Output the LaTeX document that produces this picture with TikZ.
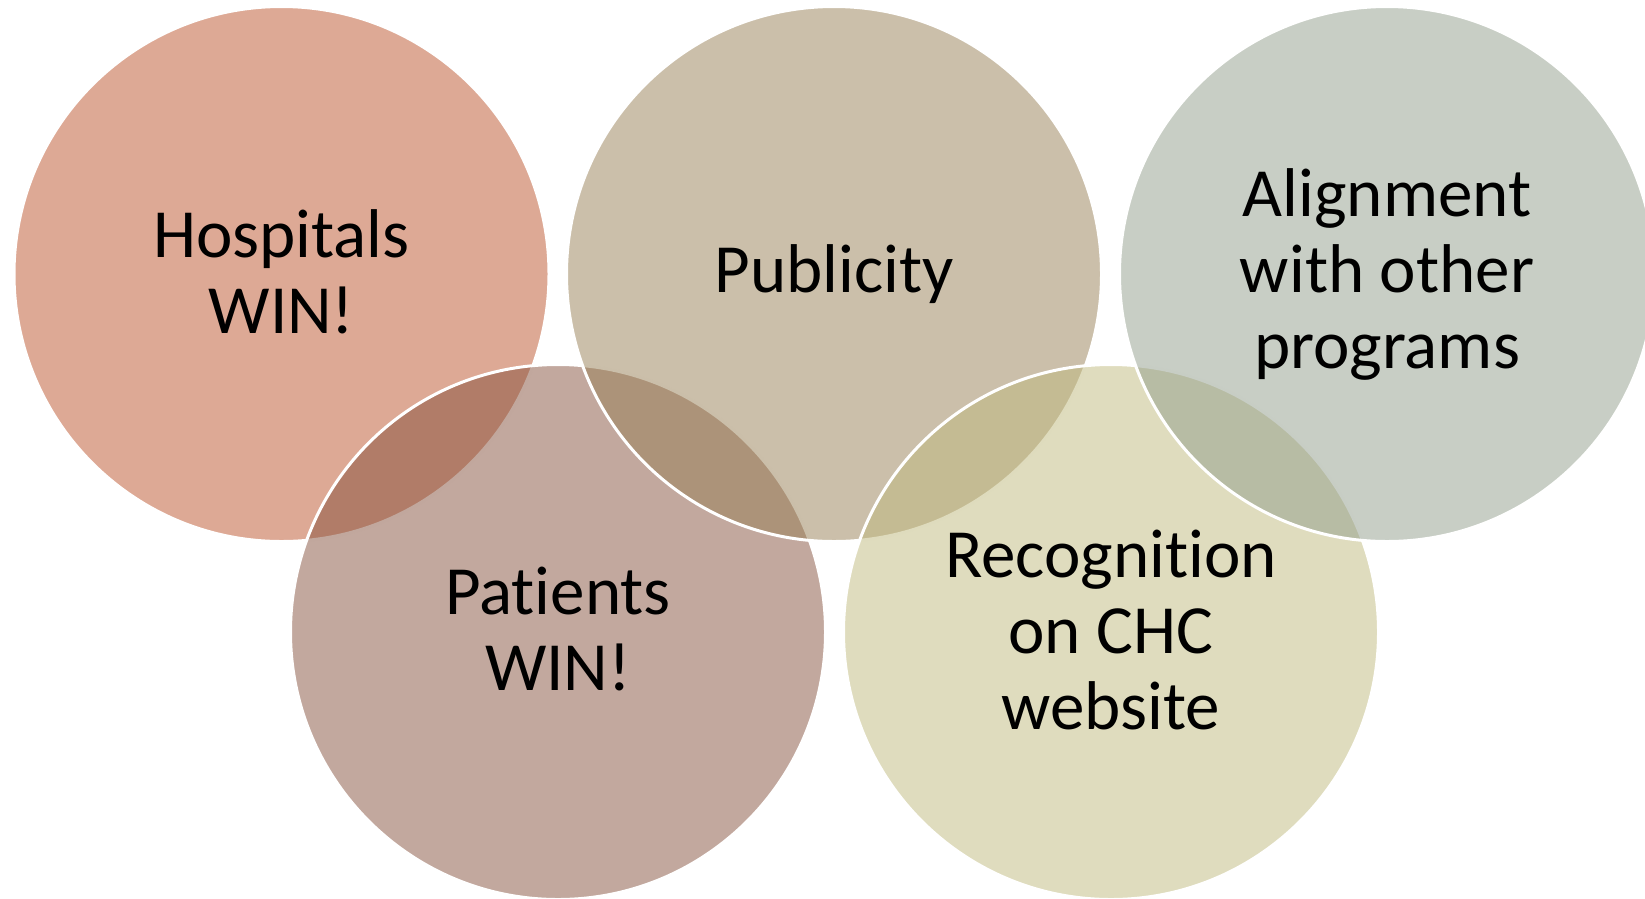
\documentclass[tikz,border=0pt]{standalone}
\usepackage{fontspec}
\setmainfont[Ligatures={NoCommon,NoContextual}]{Carlito}
\definecolor{hospC}{RGB}{187,83,43}
\definecolor{pubC}{RGB}{151,127,85}
\definecolor{alignC}{RGB}{145,157,139}
\definecolor{patC}{RGB}{133,81,61}
\definecolor{recC}{RGB}{191,185,125}
\tikzset{
  bubble/.style={circle, minimum size=535pt, inner sep=0pt,
    fill=#1, fill opacity=0.5, draw=white, draw opacity=1, line width=3pt},
  label/.style={inner sep=0pt, align=center, text=black,
    font=\fontsize{69}{76}\selectfont}
}
\begin{document}
\begin{tikzpicture}[x=1pt,y=-1pt]
  \useasboundingbox (0,0) rectangle (1645,898);
  \begin{scope}
    \clip (0,0) rectangle (1645,898);
    % circles, back to front
    \node[bubble=hospC]  (hosp)  at (281.5,274) {};
    \node[bubble=patC]   (pat)   at (558,632)   {};
    \node[bubble=pubC]   (pub)   at (834,274)   {};
    \node[bubble=recC]   (rec)   at (1111,632)  {};
    \node[bubble=alignC] (align) at (1387,274)  {};
  \end{scope}
  % captions
  \node[label] (thosp)  at ([yshift=2pt]hosp.center)  {Hospitals\\WIN!};
  \node[label] (tpat)   at ([yshift=3pt]pat.center)   {Patients\\WIN!};
  \node[label] (tpub)   at (pub.center)   {Publicity};
  \node[label] (trec)   at ([yshift=2pt]rec.center)   {Recognition\\on CHC\\website};
  \node[label] (talign) at (align.center) {Alignment\\with other\\programs};
\end{tikzpicture}
\end{document}
